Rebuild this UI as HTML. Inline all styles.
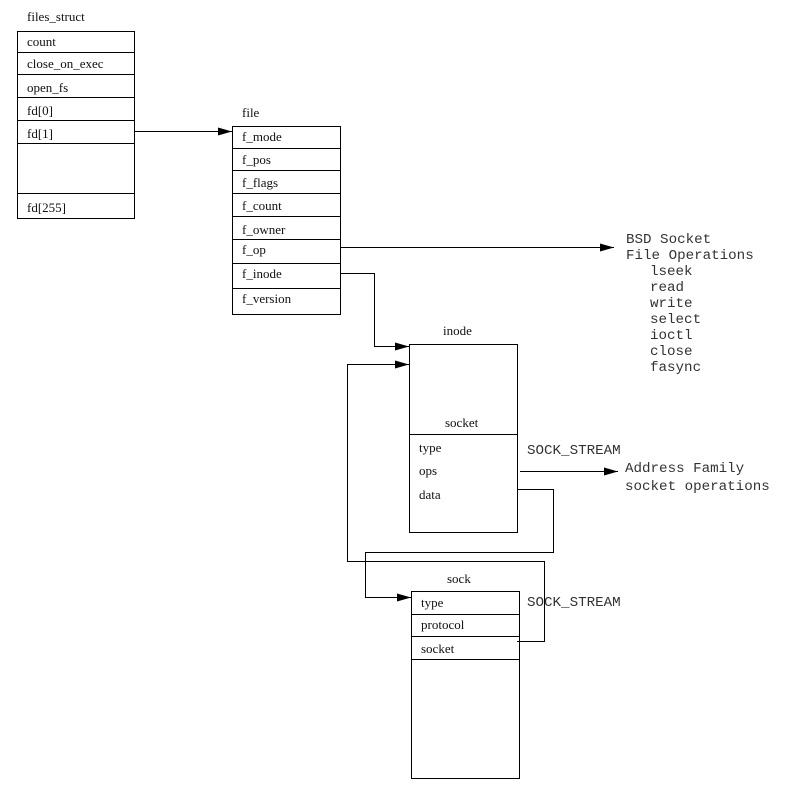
<!DOCTYPE html>
<html><head><meta charset="utf-8"><style>
html,body{margin:0;padding:0;background:#fff;width:791px;height:801px;overflow:hidden}
svg{display:block}
.s{font-family:"Liberation Serif",serif;font-size:13px;fill:#111}
.m{font-family:"Liberation Mono",monospace;font-size:14.2px;fill:#333}
</style></head><body>
<svg width="791" height="801" viewBox="0 0 791 801" xmlns="http://www.w3.org/2000/svg">
<defs><marker id="a" markerWidth="14" markerHeight="10" refX="14" refY="5" orient="auto" markerUnits="userSpaceOnUse"><path d="M0,1 L14,5 L0,9 z" fill="#000"/></marker></defs>
<g fill="none" stroke="#000" stroke-width="1">
<rect x="17.5" y="31.5" width="117" height="187"/>
<path d="M17 52.5H135M17 74.5H135M17 97.5H135M17 120.5H135M17 143.5H135M17 193.5H135"/>
<rect x="232.5" y="126.5" width="108" height="188"/>
<path d="M232 148.5H341M232 170.5H341M232 193.5H341M232 216.5H341M232 239.5H341M232 263.5H341M232 288.5H341"/>
<rect x="409.5" y="344.5" width="108" height="188"/>
<path d="M409 434.5H518"/>
<rect x="411.5" y="591.5" width="108" height="187"/>
<path d="M411 614.5H520M411 636.5H520M411 659.5H520"/>
<path d="M134 131.5H232" marker-end="url(#a)"/>
<path d="M340 247.5H614" marker-end="url(#a)"/>
<path d="M340 273.5H374.5V346.5H409" marker-end="url(#a)"/>
<path d="M520 471.5H618" marker-end="url(#a)"/>
<path d="M517 489.5H553.5V552.5H365.5V597.5H411" marker-end="url(#a)"/>
<path d="M517 641.5H544.5V561.5H347.5V364.5H409" marker-end="url(#a)"/>
</g>
<text class="s" x="27" y="21">files_struct</text>
<text class="s" x="27" y="46">count</text>
<text class="s" x="27" y="68">close_on_exec</text>
<text class="s" x="27" y="92">open_fs</text>
<text class="s" x="27" y="115">fd[0]</text>
<text class="s" x="27" y="138">fd[1]</text>
<text class="s" x="27" y="212">fd[255]</text>
<text class="s" x="242" y="117">file</text>
<text class="s" x="242" y="141">f_mode</text>
<text class="s" x="242" y="164">f_pos</text>
<text class="s" x="242" y="187">f_flags</text>
<text class="s" x="242" y="210">f_count</text>
<text class="s" x="242" y="234">f_owner</text>
<text class="s" x="242" y="254">f_op</text>
<text class="s" x="242" y="278">f_inode</text>
<text class="s" x="242" y="303">f_version</text>
<text class="s" x="443" y="335">inode</text>
<text class="s" x="445" y="427">socket</text>
<text class="s" x="419" y="452">type</text>
<text class="s" x="419" y="475">ops</text>
<text class="s" x="419" y="499">data</text>
<text class="s" x="447" y="583">sock</text>
<text class="s" x="421" y="607">type</text>
<text class="s" x="421" y="629">protocol</text>
<text class="s" x="421" y="653">socket</text>
<text class="m" x="626" y="243">BSD Socket</text>
<text class="m" x="626" y="259">File Operations</text>
<text class="m" x="650" y="275">lseek</text>
<text class="m" x="650" y="291">read</text>
<text class="m" x="650" y="307">write</text>
<text class="m" x="650" y="323">select</text>
<text class="m" x="650" y="339">ioctl</text>
<text class="m" x="650" y="355">close</text>
<text class="m" x="650" y="371">fasync</text>
<text class="m" x="527" y="454">SOCK_STREAM</text>
<text class="m" x="625" y="472">Address Family</text>
<text class="m" x="625" y="490">socket operations</text>
<text class="m" x="527" y="606">SOCK_STREAM</text>
</svg>
</body></html>
